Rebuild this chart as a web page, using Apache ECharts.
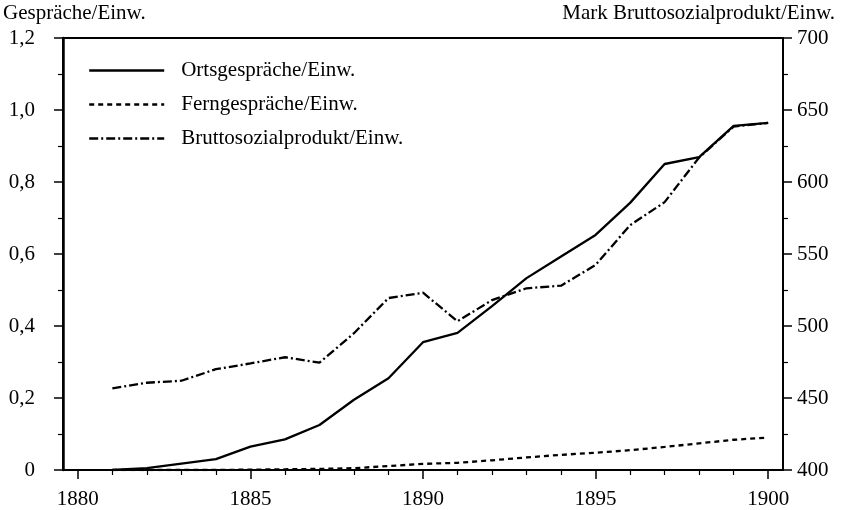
<!DOCTYPE html>
<html>
<head>
<meta charset="utf-8">
<script src="https://cdn.jsdelivr.net/npm/echarts@6/dist/echarts.min.js"></script>
<style>html,body{margin:0;padding:0;background:#fff;}#c{width:844px;height:510px;}</style>
</head>
<body>
<div id="c"></div>
<script>
const years = [1881,1882,1883,1884,1885,1886,1887,1888,1889,1890,1891,1892,1893,1894,1895,1896,1897,1898,1899,1900];
const ortsgespraeche = [0.000,0.005,0.018,0.030,0.065,0.085,0.125,0.195,0.255,0.355,0.381,0.455,0.533,0.593,0.653,0.742,0.850,0.869,0.956,0.964];
const ferngespraeche = [0.000,0.000,0.000,0.000,0.001,0.002,0.003,0.005,0.011,0.017,0.020,0.027,0.035,0.042,0.048,0.055,0.064,0.074,0.084,0.090];
const bsp = [456.7,460.6,462.0,470.0,474.0,478.3,474.5,495.0,519.4,523.1,503.3,518.0,526.2,528.0,542.4,570.0,586.0,617.0,638.5,641.0];
const xMajorTicks = [1880,1885,1890,1895,1900];
const xMinorTicks = [1881,1882,1883,1884,1886,1887,1888,1889,1891,1892,1893,1894,1896,1897,1898,1899];
const legendNames = ['Ortsgespräche/Einw.','Ferngespräche/Einw.','Bruttosozialprodukt/Einw.'];

const font = '"Liberation Serif", "DejaVu Serif", serif';
const FS = 21;
const chart = echarts.init(document.getElementById('c'));
const pair = (a) => years.map((y,i)=>[y,a[i]]);
const XMIN = 1879.57, XMAX = 1900.43;
chart.setOption({
  animation:false,
  backgroundColor:'#fff',
  textStyle:{fontFamily:font},
  grid:{left:57,right:61,top:38,bottom:40,show:true,borderColor:'#000',borderWidth:2,backgroundColor:'transparent'},
  legend:{
    left:88, top:60, padding:0, orient:'vertical', itemGap:13, itemWidth:75, itemHeight:20,
    itemStyle:{opacity:0},
    lineStyle:{width:2.4},
    textStyle:{fontFamily:font,fontSize:FS,color:'#000',padding:[0,0,0,12]},
    data:legendNames
  },
  xAxis:[{
    type:'value', min:XMIN, max:XMAX,
    axisLine:{show:true,lineStyle:{color:'#000',width:2}},
    axisTick:{show:true,length:9,lineStyle:{color:'#000',width:1.5},customValues:xMajorTicks},
    axisLabel:{show:true,color:'#000',fontFamily:font,fontSize:FS,margin:19,customValues:xMajorTicks,formatter:v=>String(Math.round(v))},
    splitLine:{show:false}
  },{
    type:'value', min:XMIN, max:XMAX, position:'bottom',
    axisLine:{show:false},
    axisTick:{show:true,length:5,lineStyle:{color:'#000',width:1.2},customValues:xMinorTicks},
    axisLabel:{show:false},
    splitLine:{show:false}
  }],
  yAxis:[{
    type:'value', min:0, max:1.2, interval:0.2, position:'left',
    name:'Gespräche/Einw.', nameLocation:'end', nameGap:0,
    nameTextStyle:{fontFamily:font,fontSize:FS,color:'#000',align:'left',verticalAlign:'bottom',padding:[0,0,14,-60]},
    axisLine:{show:true,lineStyle:{color:'#000',width:2.5}},
    axisTick:{show:true,length:9,lineStyle:{color:'#000',width:1.5}},
    minorTick:{show:true,splitNumber:2,length:5,lineStyle:{color:'#000',width:1.2}},
    axisLabel:{color:'#000',fontFamily:font,fontSize:FS,margin:28,formatter:v=>v===0?'0':v.toFixed(1).replace('.',',')},
    splitLine:{show:false}
  },{
    type:'value', min:400, max:700, interval:50, position:'right',
    name:'Mark Bruttosozialprodukt/Einw.', nameLocation:'end', nameGap:0,
    nameTextStyle:{fontFamily:font,fontSize:FS,color:'#000',align:'right',verticalAlign:'bottom',padding:[0,-52,14,0]},
    axisLine:{show:true,lineStyle:{color:'#000',width:2}},
    axisTick:{show:true,length:9,lineStyle:{color:'#000',width:1.5}},
    minorTick:{show:true,splitNumber:2,length:5,lineStyle:{color:'#000',width:1.2}},
    axisLabel:{color:'#000',fontFamily:font,fontSize:FS,margin:14,formatter:v=>String(v)},
    splitLine:{show:false}
  }],
  series:[{
    name:legendNames[0], type:'line', xAxisIndex:0, yAxisIndex:0, data:pair(ortsgespraeche),
    showSymbol:false, symbol:'none', lineStyle:{color:'#000',width:2.3,type:'solid'}, itemStyle:{color:'#000'}
  },{
    name:legendNames[1], type:'line', xAxisIndex:0, yAxisIndex:0, data:pair(ferngespraeche),
    showSymbol:false, symbol:'none', lineStyle:{color:'#000',width:2.3,type:[5,4]}, itemStyle:{color:'#000'}
  },{
    name:legendNames[2], type:'line', xAxisIndex:0, yAxisIndex:1, data:pair(bsp),
    showSymbol:false, symbol:'none', lineStyle:{color:'#000',width:2.3,type:[9,3,2,3]}, itemStyle:{color:'#000'}
  }]
});
</script>
</body>
</html>
